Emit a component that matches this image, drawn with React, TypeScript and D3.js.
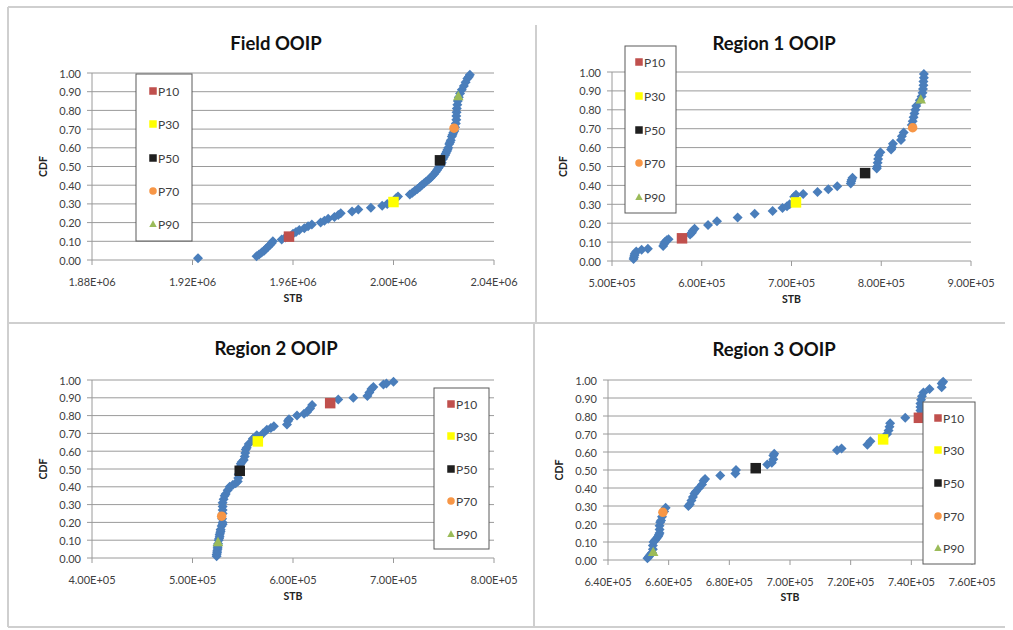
import React from "react";
import * as d3 from "d3";

// ---------- DATA ----------
const fieldPoints: [number, number][] = [
  [1.9222e6, 0.01], [1.9455e6, 0.02], [1.9465e6, 0.03], [1.9475e6, 0.04], [1.9485e6, 0.05],
  [1.9492e6, 0.06], [1.95e6, 0.07], [1.9508e6, 0.08], [1.9515e6, 0.09], [1.952e6, 0.1],
  [1.9555e6, 0.11], [1.957e6, 0.12], [1.96e6, 0.14], [1.9612e6, 0.15], [1.9625e6, 0.16],
  [1.9645e6, 0.17], [1.966e6, 0.18], [1.9675e6, 0.19], [1.971e6, 0.2], [1.9725e6, 0.21],
  [1.974e6, 0.22], [1.9765e6, 0.23], [1.978e6, 0.24], [1.979e6, 0.25], [1.9835e6, 0.26],
  [1.986e6, 0.27], [1.991e6, 0.28], [1.9955e6, 0.29], [1.9975e6, 0.3], [2.001e6, 0.33],
  [2.0018e6, 0.34], [2.0065e6, 0.35], [2.0075e6, 0.36], [2.0085e6, 0.37], [2.0095e6, 0.38],
  [2.0105e6, 0.39], [2.0112e6, 0.4], [2.0122e6, 0.41], [2.013e6, 0.42], [2.014e6, 0.43],
  [2.0148e6, 0.44], [2.0155e6, 0.45], [2.0162e6, 0.46], [2.0168e6, 0.47], [2.0173e6, 0.48],
  [2.0178e6, 0.49], [2.0183e6, 0.5], [2.0188e6, 0.51], [2.0192e6, 0.52], [2.0197e6, 0.54],
  [2.02e6, 0.55], [2.0205e6, 0.56], [2.0208e6, 0.57], [2.0212e6, 0.58], [2.0215e6, 0.59],
  [2.0218e6, 0.6], [2.0222e6, 0.62], [2.0225e6, 0.63], [2.0228e6, 0.64], [2.0232e6, 0.66],
  [2.0235e6, 0.67], [2.0238e6, 0.68], [2.0242e6, 0.69], [2.0245e6, 0.71], [2.0248e6, 0.73],
  [2.025e6, 0.75], [2.025e6, 0.77], [2.0251e6, 0.79], [2.0252e6, 0.81], [2.0254e6, 0.83],
  [2.0256e6, 0.85], [2.026e6, 0.87], [2.0265e6, 0.89], [2.0272e6, 0.91], [2.028e6, 0.93],
  [2.0287e6, 0.95], [2.0294e6, 0.97], [2.03e6, 0.98], [2.0304e6, 0.99],
];
const fieldPercentiles: [number, number][] = [
  [1.9584e6, 0.125], [2.0e6, 0.31], [2.0185e6, 0.533], [2.0241e6, 0.705], [2.0258e6, 0.877],
];

const region1Points: [number, number][] = [
  [5.24e5, 0.01], [5.245e5, 0.02], [5.25e5, 0.03], [5.255e5, 0.04], [5.27e5, 0.05],
  [5.33e5, 0.06], [5.4e5, 0.065], [5.57e5, 0.08], [5.58e5, 0.09], [5.59e5, 0.1],
  [5.61e5, 0.11], [5.63e5, 0.115], [5.87e5, 0.14], [5.89e5, 0.15], [5.9e5, 0.16],
  [5.92e5, 0.17], [6.07e5, 0.19], [6.17e5, 0.21], [6.4e5, 0.23], [6.59e5, 0.25],
  [6.79e5, 0.265], [6.9e5, 0.28], [6.95e5, 0.29], [6.98e5, 0.3], [7.03e5, 0.34],
  [7.05e5, 0.35], [7.13e5, 0.355], [7.29e5, 0.365], [7.41e5, 0.38], [7.51e5, 0.395],
  [7.66e5, 0.41], [7.665e5, 0.42], [7.67e5, 0.43], [7.68e5, 0.44], [7.95e5, 0.49],
  [7.955e5, 0.5], [7.96e5, 0.52], [7.965e5, 0.54], [7.97e5, 0.56], [7.99e5, 0.575],
  [8.11e5, 0.59], [8.12e5, 0.6], [8.13e5, 0.62], [8.22e5, 0.64], [8.23e5, 0.66],
  [8.25e5, 0.68], [8.34e5, 0.72], [8.35e5, 0.74], [8.36e5, 0.76], [8.37e5, 0.78],
  [8.38e5, 0.8], [8.39e5, 0.82], [8.43e5, 0.85], [8.45e5, 0.87], [8.46e5, 0.89],
  [8.465e5, 0.91], [8.47e5, 0.93], [8.47e5, 0.95], [8.475e5, 0.97], [8.475e5, 0.99],
];
const region1Percentiles: [number, number][] = [
  [5.78e5, 0.12], [7.05e5, 0.31], [7.82e5, 0.465], [8.35e5, 0.705], [8.44e5, 0.855],
];

const region2Points: [number, number][] = [
  [5.24e5, 0.01], [5.24e5, 0.02], [5.245e5, 0.03], [5.245e5, 0.04], [5.25e5, 0.05],
  [5.25e5, 0.06], [5.25e5, 0.07], [5.255e5, 0.08], [5.26e5, 0.1], [5.265e5, 0.11],
  [5.27e5, 0.12], [5.27e5, 0.13], [5.275e5, 0.14], [5.28e5, 0.15], [5.28e5, 0.16],
  [5.29e5, 0.18], [5.3e5, 0.19], [5.3e5, 0.2], [5.295e5, 0.22], [5.3e5, 0.25],
  [5.3e5, 0.27], [5.3e5, 0.29], [5.3e5, 0.31], [5.31e5, 0.33], [5.32e5, 0.35],
  [5.33e5, 0.36], [5.35e5, 0.38], [5.37e5, 0.4], [5.4e5, 0.41], [5.43e5, 0.42],
  [5.45e5, 0.43], [5.455e5, 0.45], [5.46e5, 0.47], [5.47e5, 0.51], [5.48e5, 0.53],
  [5.49e5, 0.54], [5.51e5, 0.55], [5.52e5, 0.57], [5.525e5, 0.59], [5.53e5, 0.61],
  [5.54e5, 0.62], [5.56e5, 0.64], [5.6e5, 0.67], [5.64e5, 0.69], [5.7e5, 0.7],
  [5.74e5, 0.72], [5.78e5, 0.73], [5.81e5, 0.74], [5.94e5, 0.75], [5.95e5, 0.77],
  [5.96e5, 0.78], [6.04e5, 0.8], [6.11e5, 0.81], [6.14e5, 0.82], [6.17e5, 0.84],
  [6.19e5, 0.86], [6.45e5, 0.89], [6.6e5, 0.9], [6.74e5, 0.91], [6.76e5, 0.93],
  [6.78e5, 0.95], [6.8e5, 0.96], [6.9e5, 0.975], [6.93e5, 0.98], [7.0e5, 0.99],
];
const region2Percentiles: [number, number][] = [
  [6.37e5, 0.87], [5.65e5, 0.655], [5.47e5, 0.49], [5.29e5, 0.235], [5.254e5, 0.09],
];

const region3Points: [number, number][] = [
  [6.53e5, 0.01], [6.535e5, 0.02], [6.54e5, 0.03], [6.545e5, 0.04], [6.548e5, 0.06],
  [6.548e5, 0.08], [6.55e5, 0.1], [6.555e5, 0.11], [6.56e5, 0.12], [6.565e5, 0.13],
  [6.568e5, 0.14], [6.57e5, 0.15], [6.57e5, 0.17], [6.57e5, 0.19], [6.572e5, 0.21],
  [6.575e5, 0.22], [6.578e5, 0.24], [6.585e5, 0.27], [6.59e5, 0.29], [6.665e5, 0.3],
  [6.67e5, 0.31], [6.675e5, 0.33], [6.68e5, 0.35], [6.685e5, 0.37], [6.69e5, 0.38],
  [6.7e5, 0.4], [6.71e5, 0.42], [6.715e5, 0.44], [6.72e5, 0.45], [6.77e5, 0.47],
  [6.82e5, 0.48], [6.822e5, 0.5], [6.925e5, 0.53], [6.94e5, 0.54], [6.945e5, 0.56],
  [6.945e5, 0.58], [6.948e5, 0.59], [7.155e5, 0.61], [7.17e5, 0.62], [7.255e5, 0.64],
  [7.265e5, 0.66], [7.32e5, 0.7], [7.325e5, 0.72], [7.328e5, 0.74], [7.33e5, 0.76],
  [7.38e5, 0.79], [7.43e5, 0.81], [7.43e5, 0.83], [7.43e5, 0.85], [7.43e5, 0.87],
  [7.432e5, 0.89], [7.435e5, 0.91], [7.44e5, 0.93], [7.46e5, 0.95], [7.5e5, 0.96],
  [7.5e5, 0.98], [7.505e5, 0.99],
];
const region3Percentiles: [number, number][] = [
  [7.425e5, 0.79], [7.307e5, 0.67], [6.887e5, 0.51], [6.581e5, 0.265], [6.549e5, 0.045],
];

const percentileLabels = ["P10", "P30", "P50", "P70", "P90"];
const cdfTicks = [0, 0.1, 0.2, 0.3, 0.4, 0.5, 0.6, 0.7, 0.8, 0.9, 1.0];
const fieldTicks = [1.88e6, 1.92e6, 1.96e6, 2.0e6, 2.04e6];
const region1Ticks = [5e5, 6e5, 7e5, 8e5, 9e5];
const region2Ticks = [4e5, 5e5, 6e5, 7e5, 8e5];
const region3Ticks = [6.4e5, 6.6e5, 6.8e5, 7.0e5, 7.2e5, 7.4e5, 7.6e5];

// ---------- STYLE ----------
const BLUE = "#4A7EBB";
const PCT_COLORS = ["#C0504D", "#FFFF00", "#1F1F1F", "#F79646", "#9BBB59"];
const PCT_SHAPES = ["square", "square", "square", "circle", "triangle"];
const FONT = "Lato, 'Open Sans', sans-serif";
const GRID = "#9a9a9a";
const TEXT = "#404040";

const fmtSci = (v: number) => {
  const s = d3.format(".2e")(v);
  const [m, e] = s.split("e");
  const sign = e[0];
  const digits = e.slice(1).padStart(2, "0");
  return `${m}E${sign}${digits}`;
};

function Marker({ shape, x, y, size, fill }: { shape: string; x: number; y: number; size: number; fill: string }) {
  const h = size / 2;
  if (shape === "square") return <rect x={x - h} y={y - h} width={size} height={size} fill={fill} />;
  if (shape === "circle") return <circle cx={x} cy={y} r={h} fill={fill} />;
  return <path d={`M${x},${y - h}L${x + h},${y + h * 0.8}L${x - h},${y + h * 0.8}Z`} fill={fill} />;
}

type PanelCfg = {
  title: string;
  points: [number, number][];
  pct: [number, number][];
  ticks: number[];
  left: number; right: number; top: number; bottom: number;
  titleX: number; titleY: number;
  yLabelRight: number;
  cdfX: number;
  stbY: number;
  legend: { x: number; y: number; w: number; h: number; entries: number[]; markerX: number };
};

function Panel({ c }: { c: PanelCfg }) {
  const xs = d3.scaleLinear().domain([c.ticks[0], c.ticks[c.ticks.length - 1]]).range([c.left, c.right]);
  const ys = d3.scaleLinear().domain([0, 1]).range([c.bottom, c.top]);
  const tickLabelY = c.bottom + 21;
  const r = 5;
  return (
    <g fontFamily={FONT}>
      <text x={c.titleX} y={c.titleY} textAnchor="middle" dominantBaseline="central" fontSize={18.5} fontWeight="bold" fill="#111">
        {c.title}
      </text>
      {cdfTicks.map((t) => (
        <g key={t}>
          <line x1={c.left - 5} x2={c.right} y1={ys(t)} y2={ys(t)} stroke={GRID} strokeWidth={1} />
          <text x={c.yLabelRight} y={ys(t)} textAnchor="end" dominantBaseline="central" fontSize={11} fill={TEXT}>
            {d3.format(".2f")(t)}
          </text>
        </g>
      ))}
      <line x1={c.left} x2={c.left} y1={c.top} y2={c.bottom} stroke={GRID} strokeWidth={1} />
      {c.ticks.map((t) => (
        <g key={t}>
          <line x1={xs(t)} x2={xs(t)} y1={c.bottom} y2={c.bottom + 5} stroke={GRID} strokeWidth={1} />
          <text x={xs(t)} y={tickLabelY} textAnchor="middle" dominantBaseline="central" fontSize={11} fill={TEXT}>
            {fmtSci(t)}
          </text>
        </g>
      ))}
      <text x={(c.left + c.right) / 2} y={c.stbY} textAnchor="middle" dominantBaseline="central" fontSize={10.5} fontWeight="bold" fill="#222">
        STB
      </text>
      <text
        transform={`translate(${c.cdfX},${(c.top + c.bottom) / 2}) rotate(-90)`}
        textAnchor="middle"
        dominantBaseline="central"
        fontSize={10.5}
        fontWeight="bold"
        fill="#222"
      >
        CDF
      </text>
      {c.points.map(([x, y], i) => {
        const px = xs(x);
        const py = ys(y);
        return <path key={i} d={`M${px},${py - r}L${px + r},${py}L${px},${py + r}L${px - r},${py}Z`} fill={BLUE} />;
      })}
      {c.pct.map(([x, y], i) => (
        <Marker key={i} shape={PCT_SHAPES[i]} x={xs(x)} y={ys(y)} size={i === 3 ? 9.5 : 10.5} fill={PCT_COLORS[i]} />
      ))}
      <rect x={c.legend.x} y={c.legend.y} width={c.legend.w} height={c.legend.h} fill="#fff" stroke="#5a5a5a" strokeWidth={1} />
      {percentileLabels.map((lab, i) => (
        <g key={lab}>
          <Marker shape={PCT_SHAPES[i]} x={c.legend.markerX} y={c.legend.entries[i]} size={7.5} fill={PCT_COLORS[i]} />
          <text x={c.legend.markerX + 5} y={c.legend.entries[i]} dominantBaseline="central" fontSize={12} fill={TEXT}>
            {lab}
          </text>
        </g>
      ))}
    </g>
  );
}

const panels: PanelCfg[] = [
  {
    title: "Field OOIP", points: fieldPoints, pct: fieldPercentiles, ticks: fieldTicks,
    left: 92, right: 494, top: 73, bottom: 260, titleX: 276, titleY: 43, yLabelRight: 81, cdfX: 43, stbY: 298,
    legend: { x: 136, y: 74, w: 56, h: 167, entries: [91, 124, 158, 191, 224], markerX: 153 },
  },
  {
    title: "Region 1 OOIP", points: region1Points, pct: region1Percentiles, ticks: region1Ticks,
    left: 612, right: 971, top: 72, bottom: 261, titleX: 774, titleY: 43, yLabelRight: 601, cdfX: 563, stbY: 299,
    legend: { x: 625, y: 46, w: 51, h: 167, entries: [62, 96, 130, 163, 197], markerX: 639 },
  },
  {
    title: "Region 2 OOIP", points: region2Points, pct: region2Percentiles, ticks: region2Ticks,
    left: 92, right: 494, top: 380, bottom: 558, titleX: 276, titleY: 348, yLabelRight: 81, cdfX: 43, stbY: 596,
    legend: { x: 434, y: 388, w: 55, h: 161, entries: [404, 436, 469, 501, 534], markerX: 451 },
  },
  {
    title: "Region 3 OOIP", points: region3Points, pct: region3Percentiles, ticks: region3Ticks,
    left: 608, right: 972, top: 380, bottom: 560, titleX: 774, titleY: 349, yLabelRight: 597, cdfX: 559, stbY: 597,
    legend: { x: 923, y: 402, w: 52, h: 162, entries: [418, 450, 483, 516, 548], markerX: 938 },
  },
];

export default function App() {
  return (
    <svg width={1013} height={630} style={{ position: "absolute", left: 0, top: 0, background: "#fff" }}>
      <rect x={0} y={0} width={1013} height={630} fill="#fff" />
      <g stroke="#cfcfcf" strokeWidth={2} fill="none">
        <line x1={8} x2={1013} y1={7} y2={7} />
        <line x1={8} x2={8} y1={7} y2={627} />
        <line x1={8} x2={1005} y1={627} y2={627} />
        <line x1={536} x2={536} y1={25} y2={322} />
        <line x1={534} x2={534} y1={324} y2={627} />
        <line x1={8} x2={1005} y1={323} y2={323} />
      </g>
      {panels.map((p) => (
        <Panel key={p.title} c={p} />
      ))}
    </svg>
  );
}
